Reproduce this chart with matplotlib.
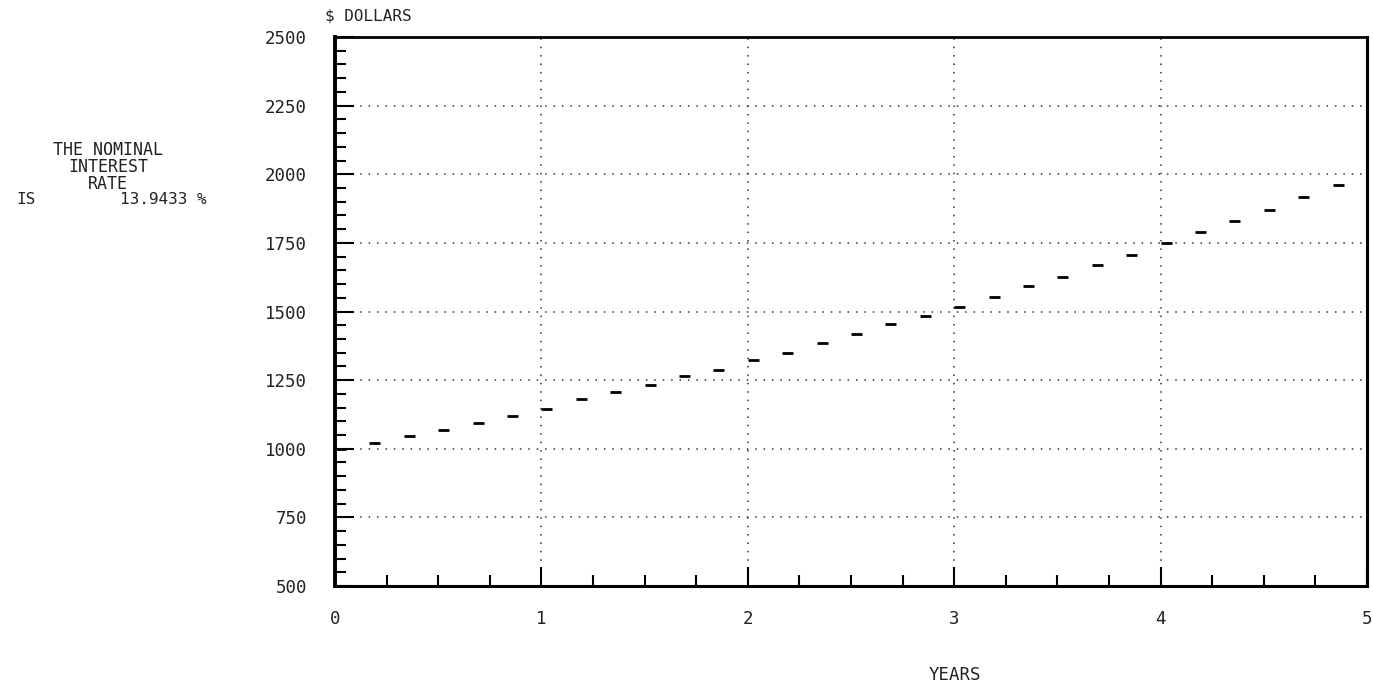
import matplotlib
matplotlib.use("Agg")
import matplotlib.pyplot as plt
from matplotlib.path import Path
from matplotlib.ticker import MultipleLocator

# ---- data ----
periods = list(range(0, 31))            # bimonthly periods
years = [p / 6 for p in periods]
dollars = [1000, 1021, 1048, 1070, 1095, 1121, 1146, 1180, 1206, 1232,
           1265, 1288, 1325, 1350, 1386, 1418, 1453, 1485, 1518, 1553,
           1592, 1626, 1668, 1706, 1748, 1788, 1831, 1870, 1917, 1960,
           2000]
x_ticks = [0, 1, 2, 3, 4, 5]
y_ticks = [500, 750, 1000, 1250, 1500, 1750, 2000, 2250, 2500]
side_lines = ["THE NOMINAL", "INTEREST", "RATE"]
rate_label = "IS"
rate_value = "13.9433 %"

FONT = "DejaVu Sans Mono"
INK = "#222222"

fig = plt.figure(figsize=(13.73, 6.92), dpi=100)
ax = fig.add_axes([335 / 1373, 1 - 586 / 692, (1367 - 335) / 1373, (586 - 37) / 692])

# dash marker extending to the right of the point
dash = Path([(0, 0), (1, 0)], [Path.MOVETO, Path.LINETO])
ax.plot(years, dollars, linestyle="none", marker=dash, markersize=16,
        markeredgewidth=2.0, color="black")

ax.set_xlim(0, 5)
ax.set_ylim(500, 2500)
ax.set_xticks(x_ticks)
ax.set_yticks(y_ticks)
ax.xaxis.set_minor_locator(MultipleLocator(0.25))
ax.yaxis.set_minor_locator(MultipleLocator(50))
ax.tick_params(axis="both", which="major", direction="in", length=14, width=1.5,
               color="black", labelsize=12.5, labelcolor=INK)
ax.tick_params(axis="both", which="minor", direction="in", length=8, width=1.5,
               color="black")
ax.tick_params(axis="x", which="major", pad=17)
ax.tick_params(axis="y", which="major", pad=20)
for lab in ax.get_xticklabels() + ax.get_yticklabels():
    lab.set_fontfamily(FONT)

ax.grid(True, which="major", linestyle=(0, (1, 4.5)), linewidth=1.1, color="#333333")

for side, lw in [("left", 2.8), ("bottom", 2.2), ("top", 2.0), ("right", 2.2)]:
    ax.spines[side].set_linewidth(lw)
    ax.spines[side].set_color("black")

fig.text(325 / 1373, 1 - 16 / 692, "$ DOLLARS", fontsize=11.5, family=FONT,
         color=INK, ha="left", va="center")
fig.text(955 / 1373, 1 - 675 / 692, "YEARS", fontsize=12.5, family=FONT,
         color=INK, ha="center", va="center")

fig.text(108 / 1373, 1 - 167 / 692, "\n".join(side_lines), fontsize=12,
         family=FONT, color=INK, ha="center", va="center",
         multialignment="center", linespacing=0.92)
fig.text(16 / 1373, 1 - 199 / 692, rate_label, fontsize=11.5, family=FONT,
         color=INK, ha="left", va="center")
fig.text(207 / 1373, 1 - 199 / 692, rate_value, fontsize=11.5, family=FONT,
         color=INK, ha="right", va="center")

fig.savefig("out.png", dpi=100, facecolor="white")
